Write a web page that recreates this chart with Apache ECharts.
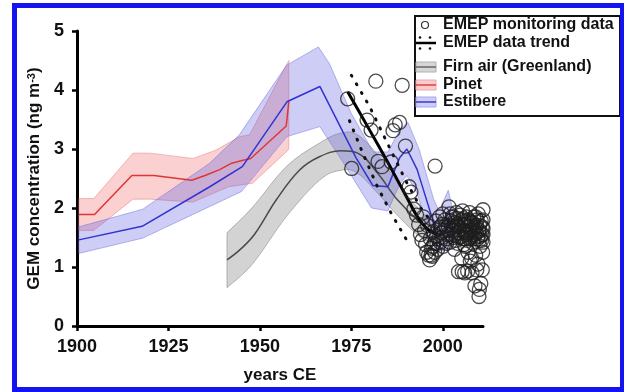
<!DOCTYPE html>
<html>
<head>
<meta charset="utf-8">
<title>GEM concentration</title>
<script src="https://cdn.jsdelivr.net/npm/echarts@6/dist/echarts.min.js"></script>
<style>
  html, body { margin: 0; padding: 0; background: #fff; }
  #chart { width: 624px; height: 392px; }
</style>
</head>
<body>
<div id="chart"></div>
<script>
// tick labels
const xTicks = [1900, 1925, 1950, 1975, 2000];
const legendLabels = ['EMEP monitoring data', 'EMEP data trend', 'Firn air (Greenland)', 'Pinet', 'Estibere'];

// Pinet (red)
const pinetLine = [[1900.5, 1.89], [1904.8, 1.89], [1915, 2.55], [1921, 2.55], [1931.4, 2.47], [1935, 2.55],
  [1939, 2.65], [1942.3, 2.76], [1945.4, 2.81], [1947.5, 2.84], [1957.2, 3.39], [1957.9, 3.8]];
const pinetUpper = [[1900.5, 2.16], [1904.6, 2.16], [1915.3, 2.93], [1919.9, 2.93], [1931.7, 2.84], [1938, 2.98],
  [1944.5, 3.21], [1947.2, 3.24], [1957.9, 4.5]];
const pinetLower = [[1900.5, 1.62], [1904.6, 1.62], [1915.3, 2.15], [1919.9, 2.15], [1931.7, 2.1], [1941.4, 2.36],
  [1948, 2.42], [1957.2, 2.95], [1957.9, 3.0]];

// Estibere (blue)
const estiLine = [[1900.5, 1.46], [1917.8, 1.69], [1936.3, 2.36], [1945.2, 2.7], [1957.4, 3.8], [1966.4, 4.06],
  [1976.3, 2.85], [1980.9, 2.38], [1985, 2.36], [1988.2, 2.85], [1990.2, 3.0], [1993, 2.65], [1997, 1.85],
  [1998.2, 1.55], [2000.5, 1.55], [2001.5, 1.85], [2003, 1.55]];
const estiUpper = [[1900.5, 1.68], [1918, 1.98], [1936.3, 2.76], [1944.4, 3.24], [1957.3, 4.42], [1966, 4.73],
  [1969, 4.45], [1975, 3.6], [1981, 2.95], [1985, 2.95], [1988.5, 3.35], [1990.5, 3.45], [1993.5, 3.0],
  [1997.5, 2.15], [1999, 1.95], [2001.5, 2.3], [2003, 1.9]];
const estiLower = [[1900.5, 1.23], [1918, 1.49], [1945, 2.28], [1957.4, 3.21], [1966.4, 3.38], [1972.7, 2.78],
  [1980.5, 2.0], [1985, 1.95], [1988.2, 2.4], [1990.2, 2.55], [1993, 2.25], [1997, 1.45], [1998.2, 1.25],
  [2001, 1.3], [2003, 1.35]];

// Firn air (Greenland)
const firnLine = [[1941, 1.12], [1944.5, 1.29], [1948.5, 1.55], [1954.5, 2.14], [1960.8, 2.64], [1966, 2.86],
  [1972.2, 2.97], [1976.7, 2.93], [1982.2, 2.59], [1987.6, 2.14], [1994.1, 1.74], [1998.5, 1.57]];
const firnUpper = [[1941, 1.58], [1948.1, 2.02], [1957.2, 2.7], [1966.3, 3.1], [1972.2, 3.27], [1976.7, 3.24],
  [1982.2, 2.9], [1988, 2.4], [1994, 1.95], [1998.5, 1.75]];
const firnLower = [[1941, 0.65], [1948.1, 1.06], [1957.2, 1.85], [1966.3, 2.47], [1972.2, 2.64], [1976.7, 2.59],
  [1982.2, 2.25], [1988, 1.85], [1994, 1.5], [1998.5, 1.38]];

// EMEP trend and its bounds
const trendLine = [[1974, 3.97], [1980, 3.32], [1985, 2.77], [1990, 2.2], [1993, 1.86], [1996, 1.63], [1998.5, 1.56]];
const trendUpper = [[1975, 4.25], [1980, 3.72], [1985, 3.08], [1990, 2.45], [1994, 2.0], [1996.5, 1.8]];
const trendLower = [[1974.5, 3.48], [1978, 2.95], [1982, 2.38], [1986, 1.9], [1990, 1.47]];

// EMEP monitoring data
const emepPoints = [
  [1974.0, 3.85], [1975.1, 2.67], [1979.3, 3.49], [1980.4, 3.32], [1981.7, 4.15], [1982.3, 2.79], [1983.4, 2.70],
  [1985.9, 2.78], [1986.4, 3.31], [1987.0, 3.41], [1988.2, 3.45], [1988.9, 4.08], [1989.8, 3.05], [1990.8, 2.36],
  [1991.3, 2.27], [1992.1, 1.98], [1992.8, 1.88], [1993.4, 1.72], [1993.9, 1.55], [1994.3, 1.45], [1994.7, 1.85],
  [1995.0, 1.62], [1995.3, 1.38], [1995.6, 1.25], [1995.9, 1.70], [1996.1, 1.20], [1996.4, 1.12], [1996.6, 1.48],
  [1996.9, 1.32], [1997.1, 1.18], [1997.4, 1.60], [1997.6, 1.40], [1997.9, 2.71], [1998.1, 1.78], [1998.3, 1.52],
  [1998.6, 1.30], [1998.8, 1.65], [1999.1, 1.85], [1999.3, 1.42], [1999.6, 1.58], [1999.8, 1.72], [2000.1, 1.35],
  [2000.3, 1.62], [2000.6, 1.80], [2000.9, 1.48], [2001.2, 1.55], [2001.5, 1.70], [2001.7, 2.02], [2002.0, 1.42],
  [2002.3, 1.65], [2002.6, 1.85], [2002.9, 1.50], [2003.2, 1.30], [2003.4, 1.75], [2003.7, 1.92], [2003.9, 1.58],
  [2004.1, 1.40], [2004.3, 0.92], [2004.5, 1.68], [2004.8, 1.88], [2005.0, 1.52], [2005.2, 1.15], [2005.4, 1.95],
  [2005.6, 1.62], [2005.8, 1.38], [2006.0, 0.90], [2006.1, 1.78], [2006.3, 1.55], [2006.5, 1.85], [2006.7, 1.45],
  [2006.9, 1.25], [2007.1, 1.68], [2007.3, 1.92], [2007.5, 1.10], [2007.6, 1.50], [2007.8, 1.75], [2008.0, 0.90],
  [2008.1, 1.60], [2008.3, 1.40], [2008.5, 1.85], [2008.7, 1.55], [2008.8, 0.68], [2009.0, 1.20], [2009.2, 1.70],
  [2009.3, 0.95], [2009.5, 1.48], [2009.7, 1.90], [2009.9, 0.50], [2010.0, 1.62], [2010.2, 1.35], [2010.4, 0.72],
  [2010.5, 1.78], [2010.7, 1.55], [2010.8, 0.95], [2011.0, 1.97], [2011.0, 1.65], [2011.0, 1.42], [2010.9, 1.25],
  [2005.3, 0.92], [2006.8, 0.93], [2010.0, 0.62], [2009.6, 1.05], [2007.9, 1.15], [2003.0, 1.85], [2004.0, 1.72],
  [2002.5, 1.55], [2001.0, 1.40], [2000.0, 1.90], [2004.6, 1.50], [2005.9, 1.70], [2007.0, 1.58], [2008.4, 1.65],
  [2009.8, 1.60], [2010.6, 1.45], [2003.6, 1.45], [2006.2, 1.35], [2011.0, 1.80], [2011.0, 1.55],
  [2002.2, 1.78], [2002.8, 1.62], [2003.3, 1.55], [2003.8, 1.68], [2004.2, 1.82], [2004.7, 1.62], [2005.1, 1.72],
  [2005.5, 1.48], [2005.7, 1.82], [2006.0, 1.62], [2006.4, 1.72], [2006.6, 1.58], [2007.2, 1.48], [2007.4, 1.78],
  [2007.7, 1.62], [2008.2, 1.75], [2008.6, 1.48], [2008.9, 1.68], [2009.1, 1.58], [2009.4, 1.80], [2009.6, 1.52],
  [2010.1, 1.70], [2010.3, 1.52], [2010.8, 1.68], [2004.4, 1.58], [2005.0, 1.80], [2006.0, 1.48], [2007.0, 1.80],
  [2008.0, 1.52], [2009.0, 1.85], [2010.0, 1.45], [2003.1, 1.68], [2002.0, 1.90], [2001.3, 1.62], [2000.8, 1.70],
  [1999.9, 1.50], [1999.4, 1.68], [1998.9, 1.48], [1998.4, 1.40], [1997.8, 1.25], [1997.3, 1.35], [1996.8, 1.20]
];

const FONT = "'Liberation Sans', Arial, sans-serif";

// 像素点列 -> 平滑路径（Catmull-Rom 转三次贝塞尔）
const smoothPath = (pts, tension, moveFirst) => {
  let d = (moveFirst ? 'M' : 'L') + pts[0][0] + ' ' + pts[0][1];
  for (let i = 0; i < pts.length - 1; i++) {
    const p0 = pts[Math.max(i - 1, 0)];
    const p1 = pts[i];
    const p2 = pts[i + 1];
    const p3 = pts[Math.min(i + 2, pts.length - 1)];
    const c1x = p1[0] + (p2[0] - p0[0]) * tension;
    const c1y = p1[1] + (p2[1] - p0[1]) * tension;
    const c2x = p2[0] - (p3[0] - p1[0]) * tension;
    const c2y = p2[1] - (p3[1] - p1[1]) * tension;
    d += 'C' + c1x + ' ' + c1y + ' ' + c2x + ' ' + c2y + ' ' + p2[0] + ' ' + p2[1];
  }
  return d;
};

// 置信带：custom 系列，坐标走 api.coord
const bandSeries = (name, upper, lower, fill, stroke, tension, z) => ({
  name: name,
  type: 'custom',
  z: z,
  silent: true,
  clip: false,
  data: upper.concat(lower),
  renderItem: (params, api) => {
    if (params.dataIndex !== 0) return null;
    const up = upper.map(p => api.coord(p));
    const lo = lower.slice().reverse().map(p => api.coord(p));
    const d = smoothPath(up, tension, true) + smoothPath(lo, tension, false) + 'Z';
    return {
      type: 'path',
      shape: { pathData: d },
      style: { fill: fill, stroke: stroke, lineWidth: 1 }
    };
  }
});

const lineSeries = (name, data, color, width, smooth, z) => ({
  name: name,
  type: 'line',
  z: z,
  data: data,
  symbol: 'none',
  smooth: smooth,
  silent: true,
  lineStyle: { color: color, width: width }
});

const dotSeries = (name, data) => ({
  name: name,
  type: 'line',
  z: 6,
  data: data,
  symbol: 'none',
  silent: true,
  lineStyle: { color: '#111', width: 3, type: [1, 9], cap: 'round' }
});

// 图例（手绘）
const lx = 443;
const rowY = [25, 43, 67, 85, 102];
const legendGraphic = [
  { type: 'rect', shape: { x: 415, y: 16, width: 205, height: 100 },
    style: { fill: '#fff', stroke: '#111', lineWidth: 2 }, z: 100 },
  { type: 'circle', shape: { cx: 425, cy: rowY[0], r: 3.5 },
    style: { fill: 'none', stroke: '#333', lineWidth: 1.2 }, z: 101 },
  { type: 'line', shape: { x1: 416, y1: rowY[1], x2: 436, y2: rowY[1] },
    style: { stroke: '#000', lineWidth: 2.5 }, z: 101 },
  { type: 'circle', shape: { cx: 420, cy: rowY[1] - 5.5, r: 1.3 }, style: { fill: '#111' }, z: 101 },
  { type: 'circle', shape: { cx: 430, cy: rowY[1] - 5.5, r: 1.3 }, style: { fill: '#111' }, z: 101 },
  { type: 'circle', shape: { cx: 420, cy: rowY[1] + 5.5, r: 1.3 }, style: { fill: '#111' }, z: 101 },
  { type: 'circle', shape: { cx: 430, cy: rowY[1] + 5.5, r: 1.3 }, style: { fill: '#111' }, z: 101 },
  { type: 'rect', shape: { x: 416, y: rowY[2] - 5, width: 20, height: 10 },
    style: { fill: '#d6d6d6', stroke: '#b0b0b0', lineWidth: 1 }, z: 101 },
  { type: 'line', shape: { x1: 416, y1: rowY[2], x2: 436, y2: rowY[2] },
    style: { stroke: '#666', lineWidth: 1.5 }, z: 102 },
  { type: 'rect', shape: { x: 416, y: rowY[3] - 5, width: 20, height: 10 },
    style: { fill: '#f9cdcd', stroke: '#f0a8a8', lineWidth: 1 }, z: 101 },
  { type: 'line', shape: { x1: 416, y1: rowY[3], x2: 436, y2: rowY[3] },
    style: { stroke: '#e04040', lineWidth: 1.5 }, z: 102 },
  { type: 'rect', shape: { x: 416, y: rowY[4] - 5, width: 20, height: 10 },
    style: { fill: '#cdcdf6', stroke: '#a8a8ea', lineWidth: 1 }, z: 101 },
  { type: 'line', shape: { x1: 416, y1: rowY[4], x2: 436, y2: rowY[4] },
    style: { stroke: '#3a3ad0', lineWidth: 1.5 }, z: 102 }
].concat(legendLabels.map((t, i) => ({
  type: 'text', x: lx, y: rowY[i], z: 102,
  style: { text: t, fill: '#111', font: 'bold 16px ' + FONT, textVerticalAlign: 'middle' }
})));

// 外框（蓝色）
legendGraphic.push({
  type: 'rect', shape: { x: 14.5, y: 5.5, width: 608, height: 384 },
  style: { fill: 'none', stroke: '#1414f0', lineWidth: 5 }, z: 200, silent: true
});

const chart = echarts.init(document.getElementById('chart'));

const option = {
  backgroundColor: '#fff',
  animation: false,
  textStyle: { fontFamily: FONT },
  grid: { left: 77, right: 141, top: 31, bottom: 66 },
  xAxis: {
    type: 'value',
    min: 1900,
    max: 2011,
    interval: 25,
    name: 'years CE',
    nameLocation: 'middle',
    nameGap: 41,
    nameTextStyle: { fontSize: 17, fontWeight: 'bold', color: '#111', fontFamily: FONT },
    axisLine: { onZero: false, lineStyle: { color: '#000', width: 3 } },
    axisTick: { customValues: xTicks, length: 5, lineStyle: { color: '#000', width: 2.5 } },
    axisLabel: {
      customValues: xTicks, fontSize: 18, fontWeight: 'bold', color: '#111', margin: 12, fontFamily: FONT,
      formatter: v => String(v)
    },
    splitLine: { show: false }
  },
  yAxis: {
    type: 'value',
    min: 0,
    max: 5,
    interval: 1,
    name: 'GEM concentration (ng m{s|-3})',
    nameLocation: 'middle',
    nameGap: 34,
    nameTextStyle: {
      fontSize: 17, fontWeight: 'bold', color: '#111', fontFamily: FONT,
      rich: { s: { fontSize: 11, fontWeight: 'bold', color: '#111', fontFamily: FONT, verticalAlign: 'top' } }
    },
    axisLine: { show: true, onZero: false, lineStyle: { color: '#000', width: 3 } },
    axisTick: { show: true, length: 5, lineStyle: { color: '#000', width: 2.5 } },
    axisLabel: { fontSize: 18, fontWeight: 'bold', color: '#111', margin: 13, fontFamily: FONT },
    splitLine: { show: false }
  },
  graphic: legendGraphic,
  series: [
    bandSeries('Firn band', firnUpper, firnLower, 'rgba(140,140,140,0.38)', 'rgba(110,110,110,0.45)', 0.18, 1),
    bandSeries('Pinet band', pinetUpper, pinetLower, 'rgba(240,120,120,0.35)', 'rgba(230,110,110,0.45)', 0, 2),
    bandSeries('Estibere band', estiUpper, estiLower, 'rgba(100,100,225,0.32)', 'rgba(110,110,225,0.5)', 0, 3),
    lineSeries('Firn air (Greenland)', firnLine, '#4a4a4a', 1.5, 0.4, 4),
    lineSeries('Pinet', pinetLine, '#e03535', 1.5, false, 4),
    lineSeries('Estibere', estiLine, '#3232d0', 1.5, false, 5),
    lineSeries('EMEP data trend', trendLine, '#000', 3, 0.35, 6),
    dotSeries('trend upper', trendUpper),
    dotSeries('trend lower', trendLower),
    {
      name: 'EMEP monitoring data',
      type: 'scatter',
      z: 7,
      silent: true,
      data: emepPoints,
      symbol: 'circle',
      symbolSize: 14,
      itemStyle: { color: 'rgba(0,0,0,0)', borderColor: '#1e1e1e', borderWidth: 1.3 }
    }
  ]
};

chart.setOption(option);
</script>
</body>
</html>
